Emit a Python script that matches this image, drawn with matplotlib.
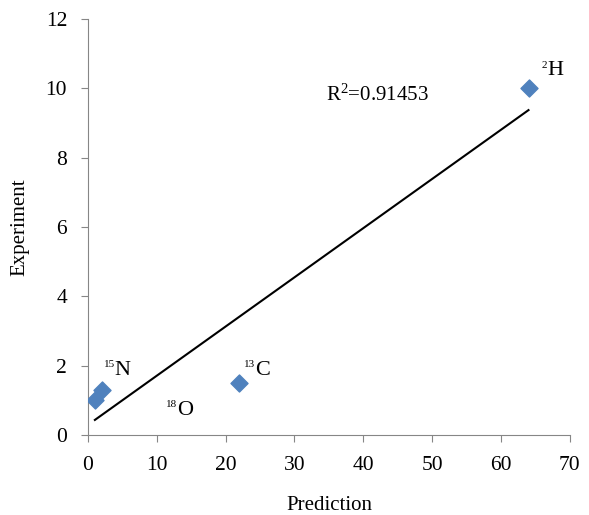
import numpy as np
import matplotlib
matplotlib.use("Agg")
import matplotlib.pyplot as plt

plt.rcParams['font.family'] = ['Liberation Serif', 'DejaVu Serif']
plt.rcParams['mathtext.fontset'] = 'custom'
plt.rcParams['mathtext.rm'] = 'Liberation Serif'

# data
prediction = [1, 2, 22, 64]
experiment = [1.0, 1.3, 1.5, 10.0]
mass_numbers = ['2', '13', '15', '18']
elements = ['H', 'C', 'N', 'O']
label_x = [66.7, 24.3, 3.9, 13.0]
label_y = [10.38, 1.73, 1.73, 0.58]

# linear trend line
slope, intercept = np.polyfit(prediction, experiment, 1)
fit_x = np.array([min(prediction), max(prediction)])
fit_y = slope * fit_x + intercept
r2 = np.corrcoef(prediction, experiment)[0, 1] ** 2

fig = plt.figure(figsize=(5.89, 5.15), dpi=100)
ax = fig.add_axes([0.1494, 0.1553, 0.818, 0.8077])

ax.scatter(prediction, experiment, marker='D', s=75, color='#4F81BD', zorder=3)
ax.plot(fit_x, fit_y, color='black', lw=1.5, zorder=2)

# isotope labels: small mass number as superscript before the element symbol
for m, el, lx, ly in zip(mass_numbers, elements, label_x, label_y):
    ax.annotate(el, (lx, ly), fontsize=16, ha='left', va='baseline')
    ax.annotate(m, (lx, ly), xytext=(0, 5.5), textcoords='offset points',
                fontsize=8, ha='right', va='baseline')

ax.text(34.6, 9.8, r'$\mathregular{R^2}$=%.5f' % r2, fontsize=15, va='center', ha='left')

ax.set_xlim(0, 70)
ax.set_ylim(0, 12)
ax.set_xticks(range(0, 71, 10))
ax.set_yticks(range(0, 13, 2))
ax.set_xlabel('Prediction', fontsize=15, labelpad=15)
ax.set_ylabel('Experiment', fontsize=15, labelpad=12)

for side in ['top', 'right']:
    ax.spines[side].set_visible(False)
for side in ['left', 'bottom']:
    ax.spines[side].set_color('#868686')
ax.tick_params(direction='out', length=5, color='#868686', labelsize=15.5)
ax.tick_params(axis='x', pad=10)
ax.tick_params(axis='y', pad=10)

fig.savefig('out.png', dpi=100)
